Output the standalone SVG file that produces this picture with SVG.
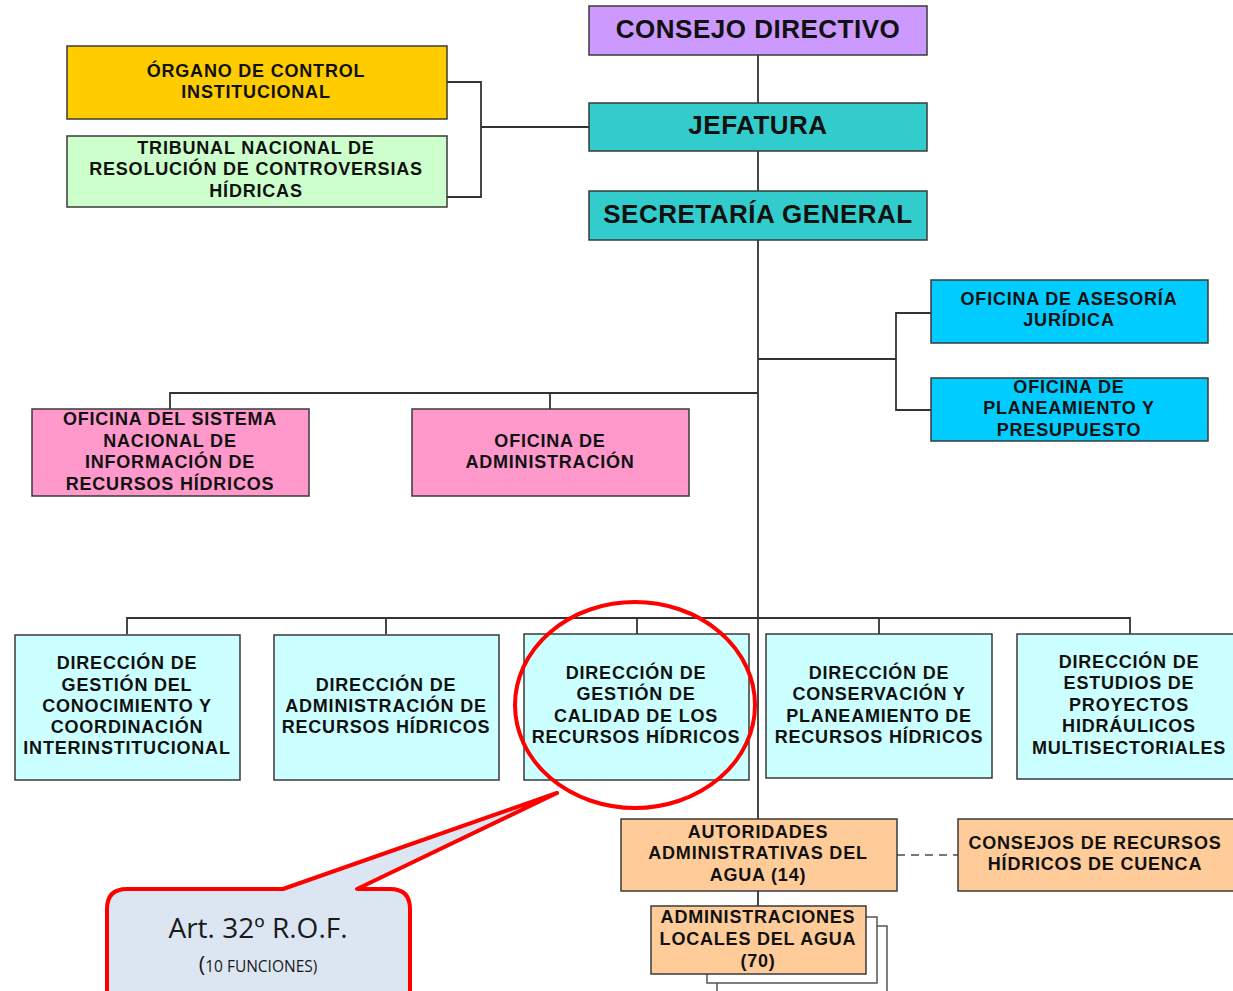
<svg xmlns="http://www.w3.org/2000/svg" width="1233" height="991" viewBox="0 0 1233 991">
<style>
.b{stroke:#3a3a3a;stroke-width:1.5}
.t{font-family:"Liberation Sans",Arial,sans-serif;font-weight:bold;font-size:18px;fill:#111;text-anchor:middle;letter-spacing:0.8px}
.h{font-size:26px;letter-spacing:0.5px}
.c{fill:none;stroke:#333;stroke-width:1.8}
.purple{fill:#CC99FF}.teal{fill:#33CCCC}.gold{fill:#FFCC00}.lg{fill:#CCFFCC}
.sky{fill:#00CCFF}.pink{fill:#FF99CC}.cyan{fill:#CCFFFF}.peach{fill:#FFCC99}
</style>
<rect width="1233" height="991" fill="#fff"/>
<g id="connectors">
<path class="c" d="M758,55V103M758,151V191M758,240V819M758,891V906"/>
<path class="c" d="M447,82H481V197H447M481,127H589"/>
<path class="c" d="M758,359H896M931,313H896V410H931"/>
<path class="c" d="M170,409V393H758M550,393V409"/>
<path class="c" d="M127,634V618H1130V634M386,618V634M637,618V634M879,618V634"/>
<path d="M897,855H958" fill="none" stroke="#777" stroke-width="2" stroke-dasharray="8,6"/>
</g>
<g id="consejo-directivo"><rect class="b purple" x="589" y="6" width="338" height="49"/><text class="t h" x="758" y="38">CONSEJO DIRECTIVO</text></g>
<g id="jefatura"><rect class="b teal" x="589" y="103" width="338" height="48"/><text class="t h" x="758" y="134">JEFATURA</text></g>
<g id="secretaria"><rect class="b teal" x="589" y="191" width="338" height="49"/><text class="t h" x="758" y="223">SECRETARÍA GENERAL</text></g>
<g id="organo"><rect class="b gold" x="67" y="46" width="380" height="73"/><text class="t" x="256" y="77">ÓRGANO DE CONTROL</text><text class="t" x="256" y="98">INSTITUCIONAL</text></g>
<g id="tribunal"><rect class="b lg" x="67" y="136" width="380" height="71"/><text class="t" x="256" y="154">TRIBUNAL NACIONAL DE</text><text class="t" x="256" y="175">RESOLUCIÓN DE CONTROVERSIAS</text><text class="t" x="256" y="197">HÍDRICAS</text></g>
<g id="asesoria"><rect class="b sky" x="931" y="280" width="277" height="63"/><text class="t" x="1069" y="305">OFICINA DE ASESORÍA</text><text class="t" x="1069" y="326">JURÍDICA</text></g>
<g id="planeamiento"><rect class="b sky" x="931" y="378" width="277" height="63"/><text class="t" x="1069" y="393">OFICINA DE</text><text class="t" x="1069" y="414">PLANEAMIENTO Y</text><text class="t" x="1069" y="436">PRESUPUESTO</text></g>
<g id="sistema"><rect class="b pink" x="32" y="409" width="277" height="87"/><text class="t" x="170" y="425">OFICINA DEL SISTEMA</text><text class="t" x="170" y="447">NACIONAL DE</text><text class="t" x="170" y="468">INFORMACIÓN DE</text><text class="t" x="170" y="490">RECURSOS HÍDRICOS</text></g>
<g id="administracion"><rect class="b pink" x="412" y="409" width="277" height="87"/><text class="t" x="550" y="447">OFICINA DE</text><text class="t" x="550" y="468">ADMINISTRACIÓN</text></g>
<g id="dir-conocimiento"><rect class="b cyan" x="15" y="635" width="225" height="145"/><text class="t" x="127" y="669">DIRECCIÓN DE</text><text class="t" x="127" y="691">GESTIÓN DEL</text><text class="t" x="127" y="712">CONOCIMIENTO Y</text><text class="t" x="127" y="733">COORDINACIÓN</text><text class="t" x="127" y="754">INTERINSTITUCIONAL</text></g>
<g id="dir-administracion"><rect class="b cyan" x="274" y="635" width="225" height="145"/><text class="t" x="386" y="691">DIRECCIÓN DE</text><text class="t" x="386" y="712">ADMINISTRACIÓN DE</text><text class="t" x="386" y="733">RECURSOS HÍDRICOS</text></g>
<g id="dir-calidad"><rect class="b cyan" x="524" y="634" width="225" height="146"/><text class="t" x="636" y="679">DIRECCIÓN DE</text><text class="t" x="636" y="700">GESTIÓN DE</text><text class="t" x="636" y="722">CALIDAD DE LOS</text><text class="t" x="636" y="743">RECURSOS HÍDRICOS</text></g>
<g id="dir-conservacion"><rect class="b cyan" x="766" y="634" width="226" height="144"/><text class="t" x="879" y="679">DIRECCIÓN DE</text><text class="t" x="879" y="700">CONSERVACIÓN Y</text><text class="t" x="879" y="722">PLANEAMIENTO DE</text><text class="t" x="879" y="743">RECURSOS HÍDRICOS</text></g>
<g id="dir-estudios"><rect class="b cyan" x="1017" y="634" width="230" height="145"/><text class="t" x="1129" y="668">DIRECCIÓN DE</text><text class="t" x="1129" y="689">ESTUDIOS DE</text><text class="t" x="1129" y="711">PROYECTOS</text><text class="t" x="1129" y="732">HIDRÁULICOS</text><text class="t" x="1129" y="754">MULTISECTORIALES</text></g>
<g id="autoridades"><rect class="b peach" x="621" y="819" width="276" height="72"/><text class="t" x="758" y="838">AUTORIDADES</text><text class="t" x="758" y="859">ADMINISTRATIVAS DEL</text><text class="t" x="758" y="881">AGUA (14)</text></g>
<g id="consejos-cuenca"><rect class="b peach" x="958" y="819" width="285" height="72"/><text class="t" x="1095" y="849">CONSEJOS DE RECURSOS</text><text class="t" x="1095" y="870">HÍDRICOS DE CUENCA</text></g>
<g id="administraciones-locales">
<rect x="717" y="926" width="170" height="80" fill="#fff" stroke="#555" stroke-width="1.5"/>
<rect x="707" y="917" width="170" height="66" fill="#fff" stroke="#555" stroke-width="1.5"/>
<rect class="b peach" x="651" y="906" width="215" height="68"/><text class="t" x="758" y="923">ADMINISTRACIONES</text><text class="t" x="758" y="945">LOCALES DEL AGUA</text><text class="t" x="758" y="967">(70)</text></g>
<g id="highlight"><ellipse cx="635" cy="705" rx="120" ry="103" fill="none" stroke="#FF0000" stroke-width="4"/></g>
<g id="callout">
<path d="M127,889H283L557,793L357,889H390Q410,889 410,909V1010H107V909Q107,889 127,889Z" fill="#DCE6F2" stroke="#FF0000" stroke-width="4" stroke-linejoin="round"/>
<text x="258" y="938" font-family="'Open Sans','Liberation Sans',sans-serif" font-size="28" fill="#1a1a1a" text-anchor="middle">Art. 32º R.O.F.</text>
<text x="258" y="972" font-family="'Open Sans','Liberation Sans',sans-serif" font-size="15.5" fill="#1a1a1a" text-anchor="middle"><tspan font-size="22">(</tspan>10 FUNCIONES)</text>
</g>
</svg>
